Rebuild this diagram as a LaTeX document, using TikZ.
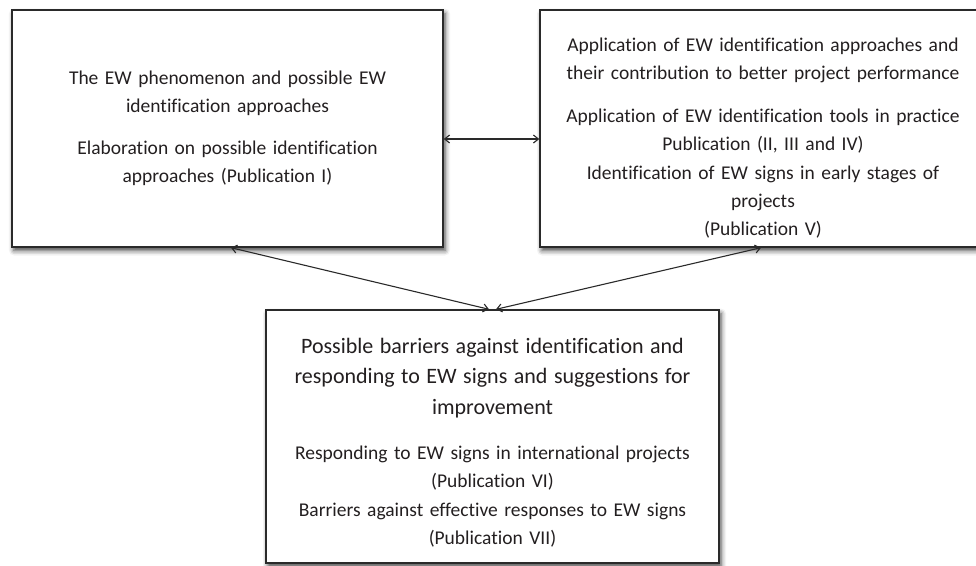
\documentclass[tikz,border=0pt]{standalone}
\usepackage{fontspec}
\setmainfont{Carlito}[Ligatures={NoCommon}]
\usetikzlibrary{arrows.meta,shadows.blur}

\definecolor{inkgrey}{HTML}{231F20}
\definecolor{edgegrey}{HTML}{2A2A2A}

\tikzset{
  panel/.style={
    draw=edgegrey, line width=1.4pt, fill=white, inner sep=0pt,
    align=center, text=inkgrey,
    font=\fontsize{19.5}{28}\selectfont,
    blur shadow={shadow xshift=2pt, shadow yshift=-3.5pt,
                 shadow blur radius=5pt, shadow opacity=75}
  },
  link/.style={draw=edgegrey, line width=1.1pt,
    {Straight Barb[length=5pt,width=8pt]}-{Straight Barb[length=5pt,width=8pt]}}
}

\begin{document}
\begin{tikzpicture}[x=1pt, y=-1pt]
  \useasboundingbox (0,0) rectangle (976,565);
  \clip (0,0) rectangle (976,565);

  % phenomenon and identification approaches
  \node[panel, text width=431pt, minimum height=237pt] (L) at (227.5,128.5)
    {The EW phenomenon and possible EW\\
     identification approaches\\[14pt]
     Elaboration on possible identification\\
     approaches (Publication I)};

  % application of identification approaches
  \node[panel, text width=446pt, minimum height=237pt] (R) at (763,128.5)
    {\rule{0pt}{33pt}Application of EW identification approaches and\\
     their contribution to better project performance\\[15pt]
     Application of EW identification tools in practice\\
     Publication (II, III and IV)\\[1pt]
     Identification of EW signs in early stages of\\
     projects\\
     (Publication V)};

  % barriers and responses
  \node[panel, text width=453pt, minimum height=253pt] (B) at (492.5,436.5)
    {\rule{0pt}{27pt}{\fontsize{22}{28}\selectfont Possible barriers against identification and}\\[2.5pt]
     {\fontsize{22}{28}\selectfont responding to EW signs and suggestions for}\\[2.5pt]
     {\fontsize{22}{28}\selectfont improvement}\\[17pt]
     Responding to EW signs in international projects\\
     (Publication VI)\\[1pt]
     Barriers against effective responses to EW signs\\
     (Publication VII)};

  % connectors
  \draw[link] ([yshift=-10.5pt]L.east) -- ([yshift=-10.5pt]R.west);
  \draw[link] ([xshift=3.5pt]L.south) -- ([xshift=-3.5pt]B.north);
  \draw[link] ([xshift=-2pt]R.south) -- ([xshift=3.5pt]B.north);
\end{tikzpicture}
\end{document}
